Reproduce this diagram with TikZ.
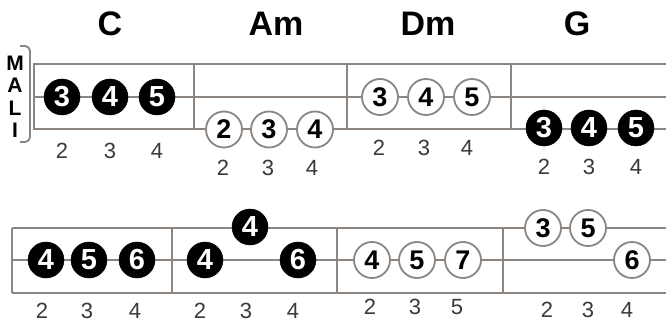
\documentclass[tikz,border=0pt]{standalone}
\usepackage{fontspec}
\setmainfont{Liberation Sans}
\definecolor{linegray}{HTML}{8C8580}
\definecolor{fretgray}{HTML}{3A3A3A}
\begin{document}
\begin{tikzpicture}[x=1pt,y=-1pt,
  staffline/.style={draw=linegray, line width=2pt},
  blk/.style={circle, fill=black, draw=black, line width=0.5pt, minimum size=36pt, inner sep=0pt,
     text=white, font=\bfseries\fontsize{29}{29}\selectfont},
  wht/.style={circle, fill=white, draw=linegray, line width=1.8pt, minimum size=36pt, inner sep=0pt,
     text=black, font=\bfseries\fontsize{27}{27}\selectfont},
  fret/.style={text=fretgray, font=\fontsize{22}{22}\selectfont, inner sep=0pt},
  title/.style={font=\bfseries\fontsize{34}{34}\selectfont, inner sep=0pt},
  mali/.style={font=\bfseries\fontsize{21}{21}\selectfont, inner sep=0pt}]
\useasboundingbox (0,0) rectangle (666,323);
\fill[white] (0,0) rectangle (666,323);

% ---- top row staff
\draw[staffline] (33,64) -- (666,64);
\draw[staffline] (33,97) -- (666,97);
\draw[staffline] (33,129.5) -- (666,129.5);
\draw[staffline] (34,64) -- (34,129.5);
\draw[staffline] (194,64) -- (194,129.5);
\draw[staffline] (347,64) -- (347,129.5);
\draw[staffline] (511,64) -- (511,129.5);

% bracket
\draw[linegray, line width=1.8pt, rounded corners=5pt] (20,46) -- (30,46) -- (30,142) -- (20,142);

% MALI
\node[mali] (lm) at (15,63) {M};
\node[mali] (la) at (15,85) {A};
\node[mali] (ll) at (15,108) {L};
\node[mali] (li) at (15,130) {I};

% titles
\node[title] (tC) at (110,24) {C};
\node[title] (tAm) at (276,24) {Am};
\node[title] (tDm) at (428,24) {Dm};
\node[title] (tG) at (577,24) {G};

% C
\node[blk] (c1) at (62,97) {3};
\node[blk] (c2) at (110,97) {4};
\node[blk] (c3) at (157,97) {5};
\node[fret] (cf1) at (62,151) {2};
\node[fret] (cf2) at (110,151) {3};
\node[fret] (cf3) at (157,151) {4};

% Am
\node[wht] (a1) at (224,129.5) {2};
\node[wht] (a2) at (269,129.5) {3};
\node[wht] (a3) at (315,129.5) {4};
\node[fret] (af1) at (223,168) {2};
\node[fret] (af2) at (268,168) {3};
\node[fret] (af3) at (312,168) {4};

% Dm
\node[wht] (d1) at (380,97) {3};
\node[wht] (d2) at (426,97) {4};
\node[wht] (d3) at (472,97) {5};
\node[fret] (df1) at (379,148) {2};
\node[fret] (df2) at (424,148) {3};
\node[fret] (df3) at (467,148) {4};

% G
\node[blk] (g1) at (544,128) {3};
\node[blk] (g2) at (589,128) {4};
\node[blk] (g3) at (636,128) {5};
\node[fret] (gf1) at (544,167) {2};
\node[fret] (gf2) at (589,167) {3};
\node[fret] (gf3) at (636,167) {4};

% ---- bottom row staff
\draw[staffline] (12,228) -- (666,228);
\draw[staffline] (12,260) -- (666,260);
\draw[staffline] (12,293) -- (666,293);
\draw[staffline] (12,228) -- (12,293);
\draw[staffline] (172,228) -- (172,293);
\draw[staffline] (337,228) -- (337,293);
\draw[staffline] (503,228) -- (503,293);

% chord 5
\node[blk] (e1) at (46,260) {4};
\node[blk] (e2) at (89,260) {5};
\node[blk] (e3) at (137,260) {6};
\node[fret] (ef1) at (42,311) {2};
\node[fret] (ef2) at (87,311) {3};
\node[fret] (ef3) at (135,311) {4};

% chord 6
\node[blk] (h1) at (250,227) {4};
\node[blk] (h2) at (205,260) {4};
\node[blk] (h3) at (298,260) {6};
\node[fret] (hf1) at (200,311) {2};
\node[fret] (hf2) at (246,311) {3};
\node[fret] (hf3) at (293,311) {4};

% chord 7
\node[wht] (k1) at (372,260) {4};
\node[wht] (k2) at (417,260) {5};
\node[wht] (k3) at (463,260) {7};
\node[fret] (kf1) at (370,307) {2};
\node[fret] (kf2) at (415,307) {3};
\node[fret] (kf3) at (457,307) {5};

% chord 8
\node[wht] (m1) at (543,228) {3};
\node[wht] (m2) at (588,228) {5};
\node[wht] (m3) at (632,260) {6};
\node[fret] (mf1) at (547,310) {2};
\node[fret] (mf2) at (588,310) {3};
\node[fret] (mf3) at (627,310) {4};
\end{tikzpicture}
\end{document}
